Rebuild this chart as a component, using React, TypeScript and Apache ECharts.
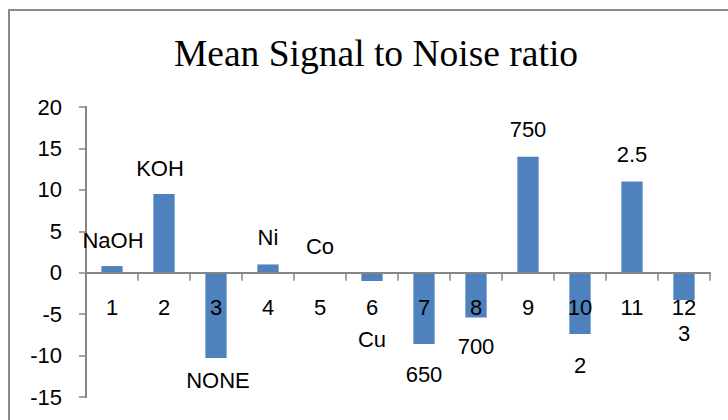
import React, { useEffect, useRef } from "react";
import * as echarts from "echarts";

const title = "Mean Signal to Noise ratio";
const categories = ["1", "2", "3", "4", "5", "6", "7", "8", "9", "10", "11", "12"];
const values = [0.8, 9.5, -10.3, 1.0, 0, -1.0, -8.6, -5.4, 14.0, -7.4, 11.0, -3.3];
const barLabels = ["NaOH", "KOH", "NONE", "Ni", "Co", "Cu", "650", "700", "750", "2", "2.5", "3"];
const yTicks = { min: -15, max: 20, interval: 5 };

// label placement (presentation only)
const labelOffsets: [number, number][] = [
  [1, -10], [-4, -10], [2, 6], [0, -11], [0, -10.5], [0, 42],
  [0, 15], [0, 13.5], [0, -11], [0, 15], [0, -11], [0, 17],
];

const H = 420;
const GRID = { left: 86, right: 18, top: 107, bottom: 23 };

export default function App() {
  const ref = useRef<HTMLDivElement>(null);
  useEffect(() => {
    if (!ref.current) return;
    const chart = echarts.init(ref.current, undefined, { renderer: "svg" });
    const font = "'Liberation Sans', Arial, sans-serif";
    chart.setOption({
      animation: false,
      backgroundColor: "#ffffff",
      graphic: [
        {
          type: "rect",
          shape: { x: 9, y: 10, width: 800, height: 500 },
          style: { fill: "none", stroke: "#8a8a8a", lineWidth: 2 },
          silent: true,
        },
        {
          type: "text",
          x: 376,
          y: 53,
          style: {
            text: title,
            font: "37.5px 'Liberation Serif', 'Times New Roman', serif",
            fill: "#000",
            textAlign: "center",
            textVerticalAlign: "middle",
          },
        },
      ],
      grid: {
        ...GRID,
        containLabel: false,
        outerBoundsMode: "none",
      },
      xAxis: {
        type: "category",
        data: categories,
        offset: 0,
        z: 10,
        axisLine: { onZero: false, lineStyle: { color: "#868686", width: 2 } },
        axisTick: { show: true, length: 8, lineStyle: { color: "#868686", width: 1.5 } },
        axisLabel: { color: "#000", fontSize: 22, fontFamily: font, margin: 24 },
        splitLine: { show: false },
      },
      yAxis: {
        type: "value",
        min: yTicks.min,
        max: yTicks.max,
        interval: yTicks.interval,
        axisLine: { show: true, lineStyle: { color: "#868686", width: 2 } },
        axisTick: { show: true, length: 7, lineStyle: { color: "#868686", width: 1.5 } },
        axisLabel: { color: "#000", fontSize: 22, fontFamily: font, margin: 24 },
        splitLine: { show: false },
      },
      series: [
        {
          type: "bar",
          barWidth: "41%",
          z: 2,
          itemStyle: { color: "#4F81BD" },
          data: values.map((v, i) => ({
            value: v,
            label: {
              show: true,
              formatter: barLabels[i],
              position: v >= 0 ? "top" : "bottom",
              offset: labelOffsets[i],
              color: "#000",
              fontSize: 22,
              fontFamily: font,
            },
          })),
        },
      ],
    });
    const zeroY = chart.convertToPixel({ yAxisIndex: 0 }, 0) as number;
    const gridBottomY = H - GRID.bottom;
    chart.setOption({ xAxis: { offset: zeroY - gridBottomY } });
    return () => chart.dispose();
  }, []);
  return (
    <div
      ref={ref}
      style={{ position: "fixed", left: 0, top: 0, width: 728, height: H }}
    />
  );
}
